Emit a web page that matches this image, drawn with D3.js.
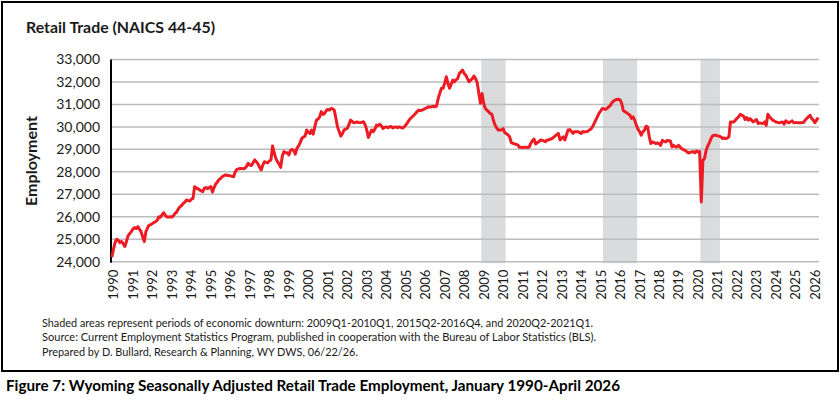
<!DOCTYPE html>
<html><head><meta charset="utf-8">
<script src="https://cdn.jsdelivr.net/npm/d3@7"></script>
<style>
html,body{margin:0;padding:0;background:#fff;}
svg{display:block;font-family:Lato,"Open Sans",sans-serif;}
</style></head>
<body><div id="chart"></div>
<script>
// ---- data ----
const years = d3.range(1990, 2027);
const yTicks = [24000,25000,26000,27000,28000,29000,30000,31000,32000,33000];
const recessions = [["2009-01","2010-03"],["2015-04","2016-12"],["2020-04","2021-03"]];
const v1990 = [24200,24550,24850,25000,24950,24850,24900,24800,24680,24900,25150,25250];
const v1991 = [25340,25450,25520,25480,25560,25450,25340,25100,24900,25340,25500,25630];
const v1992 = [25650,25700,25750,25780,25850,26000,25980,26100,26180,26050,25990,25990];
const v1993 = [26000,25990,26050,26150,26220,26350,26450,26500,26600,26650,26750,26720];
const v1994 = [26700,26780,26820,27340,27280,27250,27200,27150,27120,27270,27300,27250];
const v1995 = [27300,27340,27100,27300,27460,27550,27650,27710,27780,27830,27860,27850];
const v1996 = [27840,27820,27800,27780,28000,28110,28130,28150,28150,28140,28160,28250];
const v1997 = [28380,28300,28280,28400,28530,28450,28350,28200,28080,28300,28450,28420];
const v1998 = [28400,28480,28530,29150,28850,28600,28450,28350,28200,28700,28900,28850];
const v1999 = [28850,28750,28950,29000,28950,28790,29050,29150,29300,29490,29550,29590];
const v2000 = [29860,29750,29710,29860,29680,30000,30300,30350,30450,30680,30560,30600];
const v2001 = [30720,30780,30750,30820,30800,30740,30380,30000,29800,29590,29700,29860];
const v2002 = [29900,29930,30100,30300,30250,30180,30200,30220,30200,30190,30210,30230];
const v2003 = [30100,29860,29530,29700,29860,29790,29900,30080,30050,30120,30050,29930];
const v2004 = [29980,30000,29960,30000,30020,29950,29990,30000,29960,30000,29980,29950];
const v2005 = [30000,30080,30180,30300,30380,30450,30520,30600,30680,30750,30720,30750];
const v2006 = [30780,30820,30850,30900,30880,30900,30920,30900,30930,31270,31500,31720];
const v2007 = [31720,31950,32230,31930,31720,31900,32080,32000,32100,32150,32380,32450];
const v2008 = [32530,32380,32300,32150,32010,32080,32150,32260,32150,31970,31500,31050];
const v2009 = [31490,31050,30820,30750,30680,30600,30570,30300,30080,29950,29860,29860];
const v2010 = [29860,29930,29740,29700,29640,29560,29300,29270,29240,29220,29200,29090];
const v2011 = [29090,29080,29090,29090,29080,29100,29270,29380,29460,29240,29300,29340];
const v2012 = [29420,29400,29380,29340,29420,29420,29450,29480,29530,29600,29650,29710];
const v2013 = [29420,29500,29560,29420,29650,29860,29880,29800,29710,29790,29780,29790];
const v2014 = [29750,29710,29790,29770,29790,29800,29860,29900,30000,30150,30300,30450];
const v2015 = [30600,30700,30820,30800,30780,30820,30900,30950,31080,31150,31200,31220];
const v2016 = [31230,31200,31050,30720,30680,30630,30580,30530,30380,30450,30300,30080];
const v2017 = [29900,29790,29630,29780,29850,30030,30000,29550,29260,29330,29300,29260];
const v2018 = [29290,29250,29180,29400,29360,29330,29400,29380,29370,29110,29180,29120];
const v2019 = [29110,29180,29100,29030,28980,28960,28900,28840,28860,28880,28900,28850];
const v2020 = [28930,28880,28900,26660,28510,28590,28960,29150,29300,29480,29600,29630];
const v2021 = [29630,29600,29590,29560,29480,29510,29480,29500,29560,30220,30220,30220];
const v2022 = [30300,30380,30450,30560,30520,30480,30330,30420,30300,30370,30300,30220];
const v2023 = [30280,30330,30150,30180,30160,30150,30220,30070,30560,30450,30370,30300];
const v2024 = [30260,30220,30200,30180,30200,30220,30120,30270,30220,30180,30230,30270];
const v2025 = [30180,30200,30190,30190,30190,30190,30200,30300,30380,30450,30520,30370];
const v2026 = [30300,30190,30300,30420];

const employment = [].concat(v1990,v1991,v1992,v1993,v1994,v1995,v1996,v1997,v1998,v1999,
  v2000,v2001,v2002,v2003,v2004,v2005,v2006,v2007,v2008,v2009,v2010,v2011,v2012,v2013,
  v2014,v2015,v2016,v2017,v2018,v2019,v2020,v2021,v2022,v2023,v2024,v2025,v2026);
const months = employment.map((d,i)=> {
  const yr = 1990 + Math.floor(i/12), m = i%12 + 1;
  return yr + "-" + String(m).padStart(2,"0");
});

// ---- drawing ----
const W = 840, H = 402;
const svg = d3.select("#chart").append("svg").attr("width",W).attr("height",H);
svg.append("rect").attr("width",W).attr("height",H).attr("fill","#fff");

const pL = 111, pR = 819, pT = 59.5, pB = 261.7;
const x = d3.scaleBand().domain(months).range([pL,pR]).padding(0);
const y = d3.scaleLinear().domain([24000,33000]).range([pB,pT]);

// outer border
svg.append("rect").attr("x",2).attr("y",2).attr("width",836).attr("height",369)
  .attr("fill","none").attr("stroke","#000").attr("stroke-width",2);

// recession shading
svg.append("g").selectAll("rect").data(recessions).join("rect")
  .attr("x", d=>x(d[0]))
  .attr("width", d=>x(d[1])+x.bandwidth()-x(d[0]))
  .attr("y", pT).attr("height", pB - pT + 1.5)
  .attr("fill","#dadbdd");

// gridlines
svg.append("g").selectAll("line").data(yTicks).join("line")
  .attr("x1",pL).attr("x2",pR)
  .attr("y1",d=>y(d)).attr("y2",d=>y(d))
  .attr("stroke","#bcbcbc").attr("stroke-width",1.5);

// y axis line
svg.append("line").attr("x1",pL).attr("x2",pL).attr("y1",pT).attr("y2",pB+1)
  .attr("stroke","#000").attr("stroke-width",2);

// y tick labels
const yAxis = d3.axisLeft(y).tickValues(yTicks).tickFormat(d3.format(",")).tickSize(0).tickPadding(0);
const gy = svg.append("g").attr("transform",`translate(${pL-11},0)`).call(yAxis);
gy.select(".domain").remove();
gy.selectAll("text").attr("font-size",14).attr("fill","#1a1a1a").attr("font-family","Lato");

// x tick labels
const yearTicks = years.map(yy => yy + "-01");
const xAxis = d3.axisBottom(x).tickValues(yearTicks).tickFormat(d=>d.slice(0,4)).tickSize(0);
const gx = svg.append("g").attr("transform",`translate(0,${pB})`).call(xAxis);
gx.select(".domain").remove();
gx.selectAll("text")
  .attr("font-size",13).attr("fill","#1a1a1a").attr("font-family","Lato")
  .attr("text-anchor","end")
  .attr("transform", "translate(2,8) rotate(-90)")
  .attr("x",0).attr("y",0).attr("dy","0.35em");

// line
const line = d3.line().x((d,i)=>x(months[i])+x.bandwidth()/2).y(d=>y(d));
svg.append("path").datum(employment).attr("d",line)
  .attr("fill","none").attr("stroke","#ed1c24").attr("stroke-width",3)
  .attr("stroke-linejoin","round");

// title
svg.append("text").attr("x",26).attr("y",33).text("Retail Trade (NAICS 44-45)")
  .attr("font-weight","bold").attr("font-size",16).attr("fill","#1a1a1a")
  .attr("textLength",189).attr("lengthAdjust","spacingAndGlyphs");

// y axis title
svg.append("text").attr("transform","translate(37,161) rotate(-90)")
  .attr("text-anchor","middle").text("Employment")
  .attr("font-weight","bold").attr("font-size",16).attr("fill","#1a1a1a")
  .attr("textLength",90).attr("lengthAdjust","spacingAndGlyphs");

// footnotes
const notes = [
  ["Shaded areas represent periods of economic downturn: 2009Q1-2010Q1, 2015Q2-2016Q4, and 2020Q2-2021Q1.", 551],
  ["Source: Current Employment Statistics Program, published in cooperation with the Bureau of Labor Statistics (BLS).", 554],
  ["Prepared by D. Bullard, Research & Planning, WY DWS, 06/22/26.", 316]
];
svg.append("g").selectAll("text").data(notes).join("text")
  .attr("x",42).attr("y",(d,i)=>326.5 + i*14.5)
  .attr("font-size",12).attr("fill","#1a1a1a")
  .attr("textLength",d=>d[1]).attr("lengthAdjust","spacingAndGlyphs")
  .text(d=>d[0]);

// caption
svg.append("text").attr("x",6).attr("y",391)
  .text("Figure 7: Wyoming Seasonally Adjusted Retail Trade Employment, January 1990-April 2026")
  .attr("font-weight","bold").attr("font-size",15).attr("fill","#000")
  .attr("textLength",614).attr("lengthAdjust","spacingAndGlyphs");
</script>
</body></html>
